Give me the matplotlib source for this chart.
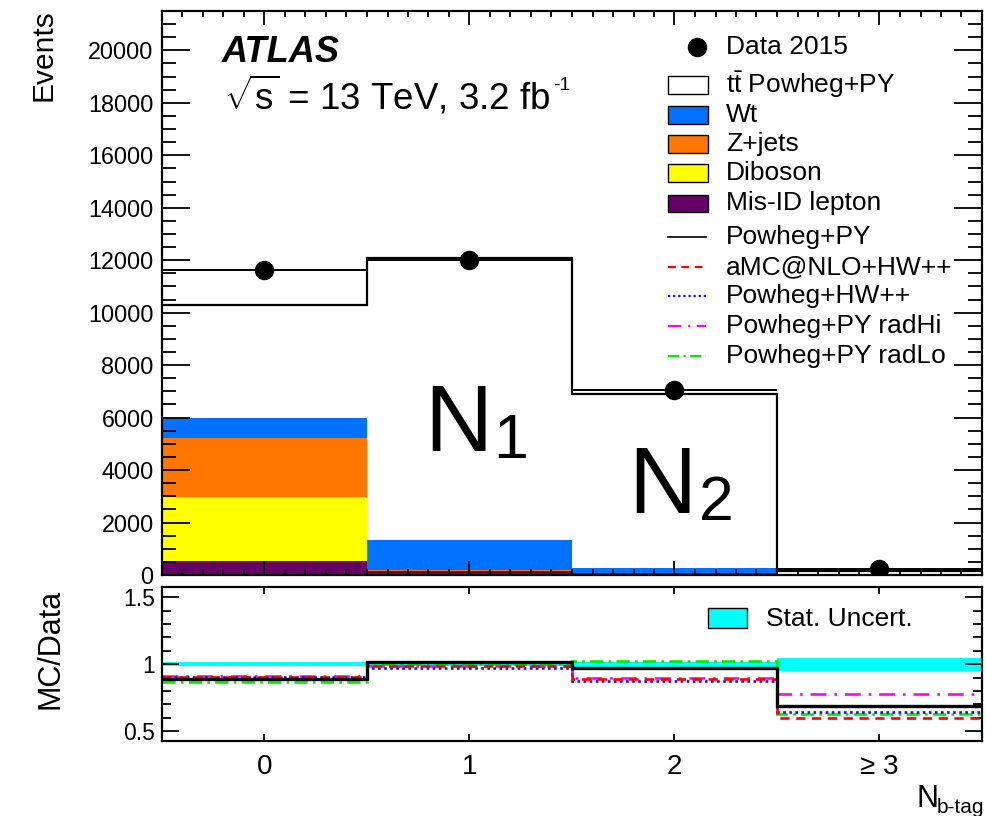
"""
ATLAS ttbar dilepton: b-tag multiplicity with MC/Data ratio
"""

import numpy as np
import matplotlib
matplotlib.use('Agg')
import matplotlib.pyplot as plt
from matplotlib.patches import Rectangle
from matplotlib.lines import Line2D
from matplotlib.ticker import MultipleLocator, FixedLocator

plt.rcParams['font.family'] = ['Liberation Sans', 'DejaVu Sans']
plt.rcParams['mathtext.fontset'] = 'custom'
plt.rcParams['mathtext.rm'] = 'Liberation Sans'
plt.rcParams['mathtext.it'] = 'Liberation Sans:italic'
plt.rcParams['mathtext.bf'] = 'Liberation Sans:bold'

# ==================== data ====================
nbtag = [0, 1, 2, 3]
nbtag_labels = ['0', '1', '2', '≥ 3']

data_2015 = [11620, 11990, 7060, 220]

# stack, bottom -> top
misid = [530, 150, 60, 10]
diboson = [2450, 20, 5, 2]
zjets = [2260, 30, 15, 3]
wt = [740, 1140, 200, 15]
ttbar = [4300, 10740, 6620, 120]

# MC/Data ratios
r_powpy = [0.89, 1.013, 0.97, 0.69]
r_amc = [0.907, 0.987, 0.89, 0.60]
r_powhw = [0.903, 0.975, 0.877, 0.64]
r_radhi = [0.91, 0.985, 0.897, 0.78]
r_radlo = [0.865, 1.0, 1.027, 0.627]
stat_unc = [0.016, 0.012, 0.02, 0.05]

# ==================== style ====================
c_wt = '#0072ff'
c_zjets = '#ff7700'
c_dib = '#ffff00'
c_misid = '#660066'
c_stat = '#00ffff'

W, H = 987, 816


def fx(p):
    return p / W


def fy(p):
    return 1 - p / H


fig = plt.figure(figsize=(W / 100, H / 100), dpi=100)
ax = fig.add_axes([fx(162), fy(575), (982 - 162) / W, (575 - 11) / H])
axr = fig.add_axes([fx(162), fy(741), (982 - 162) / W, (741 - 587) / H])

x = np.array(nbtag, dtype=float)
edges = np.append(x - 0.5, x[-1] + 0.5)

# ---- main panel: stacked histogram ----
bottom = np.zeros(len(x))
for vals, col in [(misid, c_misid), (diboson, c_dib), (zjets, c_zjets),
                  (wt, c_wt), (ttbar, 'white')]:
    ax.bar(x, vals, bottom=bottom, width=1.0, color=col, linewidth=0, zorder=1)
    bottom = bottom + np.array(vals)

ax.stairs(bottom, edges, baseline=None, color='black', lw=1.6, zorder=3)
ax.errorbar(x, data_2015, xerr=0.5, fmt='o', color='black', ms=13,
            lw=1.4, capsize=0, zorder=4)

ax.set_xlim(-0.5, 3.5)
ax.set_ylim(0, 21500)
ax.yaxis.set_major_locator(MultipleLocator(2000))
ax.yaxis.set_minor_locator(MultipleLocator(500))
ax.xaxis.set_major_locator(FixedLocator(nbtag))
ax.xaxis.set_minor_locator(MultipleLocator(0.1))
ax.tick_params(axis='both', which='both', direction='in', top=True, right=True,
               width=1.3)
ax.tick_params(axis='y', which='major', length=20, labelsize=16.8, pad=6)
ax.tick_params(axis='y', which='minor', length=10)
ax.tick_params(axis='x', which='major', length=10, labelbottom=False)
ax.tick_params(axis='x', which='minor', length=4.5)
for s in ax.spines.values():
    s.set_linewidth(1.6)

# ---- ratio panel ----
half = np.array(stat_unc)
axr.bar(x, 2 * half, bottom=1 - half, width=1.0, color=c_stat, linewidth=0, zorder=1)
axr.stairs(r_radlo, edges, baseline=None, color='#00ee00', lw=1.9,
           linestyle=(0, (5, 2, 1, 2)), zorder=2)
axr.stairs(r_radhi, edges, baseline=None, color='#ff00ff', lw=1.9,
           linestyle=(0, (6, 3, 1, 3)), zorder=2)
axr.stairs(r_powhw, edges, baseline=None, color='#1010ff', lw=1.9,
           linestyle=(0, (1, 1.3)), zorder=2)
axr.stairs(r_amc, edges, baseline=None, color='#ff0000', lw=1.9,
           linestyle=(0, (3.5, 2.5)), zorder=2)
axr.stairs(r_powpy, edges, baseline=None, color='black', lw=2.4, zorder=3)

axr.set_xlim(-0.5, 3.5)
axr.set_ylim(0.425, 1.578)
axr.yaxis.set_major_locator(FixedLocator([0.5, 1.0, 1.5]))
axr.set_yticklabels(['0.5', '1', '1.5'])
axr.yaxis.set_minor_locator(MultipleLocator(0.1))
axr.xaxis.set_major_locator(FixedLocator(nbtag))
axr.set_xticklabels(nbtag_labels)
axr.tick_params(axis='both', which='both', direction='in', top=True, right=True,
                width=1.3)
axr.tick_params(axis='y', which='major', length=12, labelsize=16.5, pad=5)
axr.tick_params(axis='y', which='minor', length=6.5)
axr.tick_params(axis='x', which='major', length=5, labelsize=20, pad=9)
for s in axr.spines.values():
    s.set_linewidth(1.6)

# ---- axis titles ----
fig.text(fx(43), fy(9), 'Events', rotation=90, ha='center', va='top', fontsize=21.5)
fig.text(fx(51), fy(589), 'MC/Data', rotation=90, ha='center', va='top', fontsize=22)
fig.text(fx(917), fy(807), 'N', ha='left', va='baseline', fontsize=22)
fig.text(fx(937), fy(813), 'b-tag', ha='left', va='baseline', fontsize=15)

# ---- labels ----
fig.text(fx(222), fy(62), 'ATLAS', ha='left', va='baseline', fontsize=26,
         fontweight='bold', fontstyle='italic')
lumi = fig.text(fx(224), fy(110), r'$\sqrt{\mathrm{s}}$ = 13 TeV, 3.2 fb',
                ha='left', va='baseline', fontsize=26.5)
renderer = fig.canvas.get_renderer()
bb = lumi.get_window_extent(renderer)
fig.text((bb.x1 + 3) / W, fy(90), '-1', ha='left', va='baseline', fontsize=14)

fig.text(fx(424), fy(451), 'N', ha='left', va='baseline', fontsize=68)
fig.text(fx(493), fy(458), '1', ha='left', va='baseline', fontsize=45)
fig.text(fx(628), fy(513), 'N', ha='left', va='baseline', fontsize=68)
fig.text(fx(699), fy(520), '2', ha='left', va='baseline', fontsize=45)

# ---- legend (main) ----
tx = fx(726)
fig.add_artist(Line2D([fx(697)], [fy(47)], marker='o', ms=13, color='black',
                      linestyle='none'))
fig.text(tx, fy(47), 'Data 2015', va='center', fontsize=19)

box_rows = [(r'$\mathrm{t\bar{t}}$ Powheg+PY', 'white', 85),
            ('Wt', c_wt, 115),
            ('Z+jets', c_zjets, 144),
            ('Diboson', c_dib, 173),
            ('Mis-ID lepton', c_misid, 203)]
for lab, col, yy in box_rows:
    fig.add_artist(Rectangle((fx(668), fy(yy + 8.5)), 40 / W, 17 / H,
                             facecolor=col, edgecolor='black', lw=1.0))
    fig.text(tx, fy(yy), lab, va='center', fontsize=19)

line_rows = [('Powheg+PY', 'black', '-', 237),
             ('aMC@NLO+HW++', '#ff0000', (0, (3.5, 2.5)), 267),
             ('Powheg+HW++', '#1010ff', (0, (1, 1.3)), 296),
             ('Powheg+PY radHi', '#ff00ff', (0, (6, 3, 1, 3)), 326),
             ('Powheg+PY radLo', '#00ee00', (0, (5, 2, 1, 2)), 356)]
for lab, col, ls, yy in line_rows:
    fig.add_artist(Line2D([fx(668), fx(706)], [fy(yy), fy(yy)], color=col,
                          linestyle=ls, lw=1.6 if col != 'black' else 1.2))
    fig.text(tx, fy(yy), lab, va='center', fontsize=19)

# ---- legend (ratio) ----
fig.add_artist(Rectangle((fx(708), fy(628)), 39 / W, 20 / H,
                         facecolor=c_stat, edgecolor='black', lw=1.0))
fig.text(fx(766), fy(619), 'Stat. Uncert.', va='center', fontsize=19)

fig.savefig('out.png', dpi=100)
